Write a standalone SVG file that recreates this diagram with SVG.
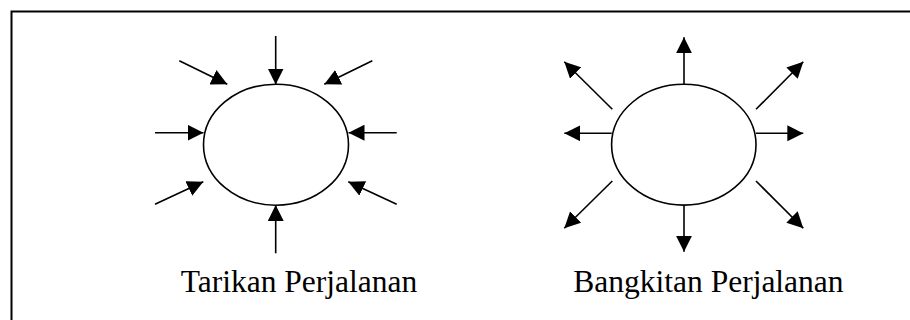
<svg xmlns="http://www.w3.org/2000/svg" width="910" height="320" viewBox="0 0 910 320">
<style>
.frame{fill:none;stroke:#000;stroke-width:2}
.node{fill:#fff;stroke:#000;stroke-width:1.6}
.conn{stroke:#000;stroke-width:1.6;fill:none;marker-end:url(#ah)}
.lbl{font-family:"Liberation Serif","Times New Roman",serif;font-size:31.5px;fill:#000}
</style>
<defs>
<marker id="ah" markerUnits="userSpaceOnUse" markerWidth="16" markerHeight="16" viewBox="0 0 15 15" refX="15" refY="7.5" orient="auto">
<path d="M0,0 L15,7.5 L0,15 z" fill="#000"/>
</marker>
</defs>
<rect class="frame" x="11.5" y="11.5" width="930" height="340"/>
<g id="tarikan">
<ellipse class="node" cx="276" cy="144.7" rx="72.5" ry="60.5"/>
<text class="lbl" x="180.7" y="292.3">Tarikan Perjalanan</text>
</g>
<g id="bangkitan">
<ellipse class="node" cx="683.8" cy="144.7" rx="72.2" ry="60.4"/>
<text class="lbl" x="573.3" y="292.3">Bangkitan Perjalanan</text>
</g>
<g id="connectors">
<line class="conn" x1="275.7" y1="36" x2="275.7" y2="84.5"/>
<line class="conn" x1="179.3" y1="60.7" x2="227.3" y2="84.3"/>
<line class="conn" x1="372.3" y1="60.7" x2="324.3" y2="84.3"/>
<line class="conn" x1="155" y1="132.7" x2="203.5" y2="132.7"/>
<line class="conn" x1="396.7" y1="132.7" x2="348.5" y2="132.7"/>
<line class="conn" x1="155" y1="204.3" x2="203.3" y2="181.7"/>
<line class="conn" x1="396.7" y1="204.3" x2="348.3" y2="181.7"/>
<line class="conn" x1="275.7" y1="253.3" x2="275.7" y2="205"/>
<line class="conn" x1="684" y1="84.3" x2="684" y2="37.3"/>
<line class="conn" x1="612.3" y1="109.3" x2="564.3" y2="61.7"/>
<line class="conn" x1="756" y1="109.3" x2="803.3" y2="61.7"/>
<line class="conn" x1="611.7" y1="133.3" x2="564.3" y2="133.3"/>
<line class="conn" x1="756" y1="133.3" x2="803.3" y2="133.3"/>
<line class="conn" x1="612.3" y1="181" x2="564.3" y2="228.3"/>
<line class="conn" x1="756" y1="181" x2="803.3" y2="228.3"/>
<line class="conn" x1="684" y1="205" x2="684" y2="251.7"/>
</g>
</svg>
